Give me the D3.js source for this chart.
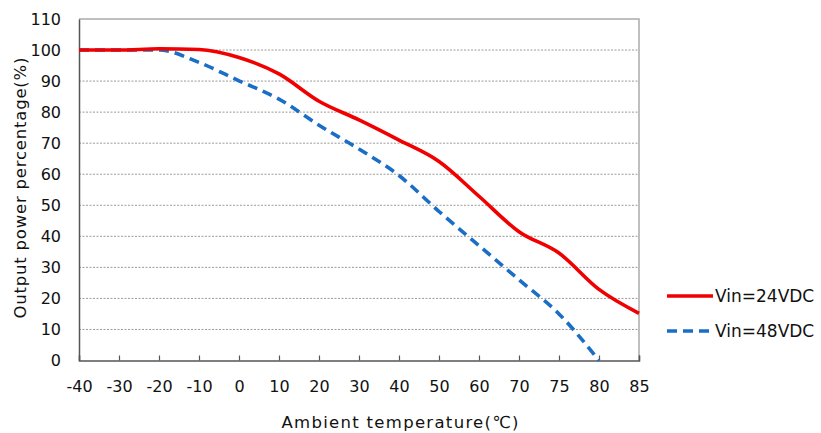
<!DOCTYPE html>
<html><head><meta charset="utf-8">
<script src="https://cdn.jsdelivr.net/npm/d3@7"></script>
<style>body{margin:0;background:#fff}svg text{font-family:"DejaVu Sans",sans-serif;fill:#111}</style>
</head><body><svg id="c" width="821" height="433"></svg>
<script>
const categories = ["-40","-30","-20","-10","0","10","20","30","40","50","60","70","75","80","85"];
const vin24 = [100,100,100.4,100.2,97.6,92.3,83.5,77.5,71,64.1,52.9,41.5,34.6,22.9,15.2];
const vin48 = [100,100,100,96,90.1,84.2,75.8,68.1,59.6,48,37,26,15,0,null];
const yTicks = [0,10,20,30,40,50,60,70,80,90,100,110];
const seriesNames = ["Vin=24VDC","Vin=48VDC"];

const svg = d3.select("#c");
const L=79,R=639,T=19,B=360.5;
const x = d3.scalePoint().domain(categories).range([L,R]);
const y = d3.scaleLinear().domain([0,110]).range([B,T]);

// grid
svg.append("g").selectAll("line").data(yTicks.filter(v=>v>0&&v<110)).join("line")
  .attr("x1",L).attr("x2",R).attr("y1",d=>y(d)).attr("y2",d=>y(d))
  .attr("stroke","#9a9a9a").attr("stroke-width",1).attr("stroke-dasharray","2,1.5");
// top/right border
svg.append("path").attr("d",`M${L},${y(110)}H${R}V${B}`).attr("fill","none").attr("stroke","#aaa").attr("stroke-width",1.5);

// y axis
const ya = svg.append("g").attr("transform",`translate(${L},0)`)
  .call(d3.axisLeft(y).tickValues(yTicks).tickSize(0).tickPadding(18));
ya.select(".domain").attr("stroke","#555").attr("stroke-width",1.5);
ya.selectAll("text").attr("font-size",16).attr("fill","#111");
// x axis
const xa = svg.append("g").attr("transform",`translate(0,${B})`)
  .call(d3.axisBottom(x).tickSize(-5).tickPadding(20));
xa.select(".domain").attr("stroke","#555").attr("stroke-width",1.5);
xa.selectAll("line").attr("stroke","#555").attr("stroke-width",1.2);
xa.selectAll("text").attr("font-size",16).attr("fill","#111");

// lines
const line = d3.line().defined(d=>d.v!=null).x(d=>x(d.c)).y(d=>y(d.v)).curve(d3.curveMonotoneX);
const mk = arr => categories.map((c,i)=>({c,v:arr[i]}));
svg.append("path").datum(mk(vin48)).attr("d",line).attr("fill","none")
  .attr("stroke","#1a6ec6").attr("stroke-width",3.6).attr("stroke-dasharray","10,6");
svg.append("path").datum(mk(vin24)).attr("d",line).attr("fill","none")
  .attr("stroke","#f00000").attr("stroke-width",3.6);

// titles
svg.append("text").attr("x",400).attr("y",428).attr("text-anchor","middle").attr("font-size",16.5)
  .attr("textLength",237).text("Ambient temperature(℃)");
svg.append("text").attr("transform","translate(26,188) rotate(-90)").attr("text-anchor","middle").attr("font-size",16.5)
  .attr("textLength",261).text("Output power percentage(%)");

// legend
const lg = svg.append("g");
const cols=["#f00000","#1a6ec6"], dashes=[null,"10,6"];
seriesNames.forEach((n,i)=>{
  const yy = 296+35*i;
  lg.append("line").attr("x1",667).attr("x2",713).attr("y1",yy).attr("y2",yy)
    .attr("stroke",cols[i]).attr("stroke-width",3.6).attr("stroke-dasharray",dashes[i]);
  lg.append("text").attr("x",715).attr("y",yy+6).attr("font-size",17).text(n);
});
</script></body></html>
